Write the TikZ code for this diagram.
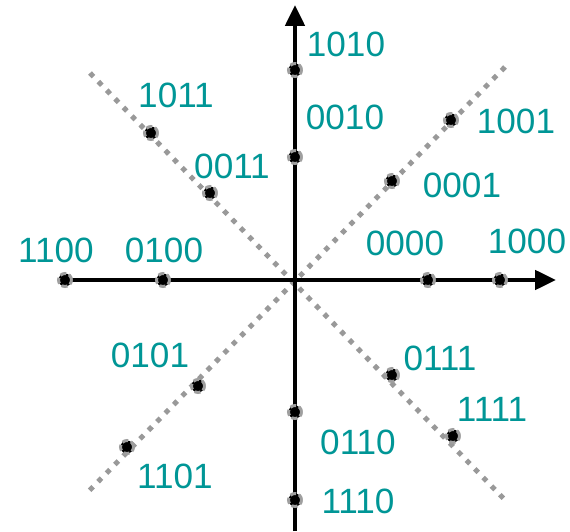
\documentclass[tikz,border=0pt]{standalone}
\usepackage{fontspec}
\setmainfont{Liberation Sans}
\usetikzlibrary{arrows.meta}
\definecolor{labelteal}{RGB}{0,150,150}
\begin{document}
\begin{tikzpicture}[
                    font=\fontsize{20}{24}\selectfont,
                    axis/.style={line width=0.095cm, black, -{Triangle[length=0.42cm, width=0.38cm]}},
                    diag/.style={line width=0.1cm, gray!80, dash pattern=on 0.1cm off 0.14cm},
                    sym/.style={circle, fill=black, draw=gray!75, line width=0.06cm, dash pattern=on 0.12cm off 0.06cm, minimum size=0.26cm, inner sep=0pt},
                    bits/.style={text=labelteal, inner sep=0pt}
                ]
                \useasboundingbox (-5.90,-5.02) rectangle (5.50,5.60);

                % dotted diagonals
                \coordinate (d1s) at (-4.10,4.14);
                \coordinate (d1e) at (4.24,-4.44);
                \coordinate (d2s) at (4.20,4.26);
                \coordinate (d2e) at (-4.20,-4.30);
                \draw[diag] (d1s) -- (d1e);
                \draw[diag] (d2s) -- (d2e);

                % axes
                \coordinate (xl) at (-4.70,0);
                \coordinate (xr) at (5.22,0);
                \coordinate (yb) at (0,-5.02);
                \coordinate (yt) at (0,5.50);
                \draw[axis] (xl) -- (xr);
                \draw[axis] (yb) -- (yt);

                % horizontal axis
                \node[sym] (s0000) at (2.66,0) {};
                \node[sym] (s1000) at (4.10,0) {};
                \node[sym] (s0100) at (-2.64,0) {};
                \node[sym] (s1100) at (-4.60,0) {};
                \node[bits] (l0000) at (2.20,0.74) {0000};
                \node[bits] (l1000) at (4.64,0.78) {1000};
                \node[bits] (l0100) at (-2.62,0.60) {0100};
                \node[bits] (l1100) at (-4.78,0.60) {1100};

                % vertical axis
                \node[sym] (s0010) at (0,2.46) {};
                \node[sym] (s1010) at (0,4.20) {};
                \node[sym] (s0110) at (0,-2.64) {};
                \node[sym] (s1110) at (0,-4.40) {};
                \node[bits] (l0010) at (1.00,3.26) {0010};
                \node[bits] (l1010) at (1.02,4.72) {1010};
                \node[bits] (l0110) at (1.26,-3.24) {0110};
                \node[bits] (l1110) at (1.26,-4.42) {1110};

                % diagonals
                \node[sym] (s0001) at (1.94,1.98) {};
                \node[sym] (s1001) at (3.12,3.20) {};
                \node[sym] (s0011) at (-1.70,1.74) {};
                \node[sym] (s1011) at (-2.88,2.94) {};
                \node[sym] (s0101) at (-1.94,-2.12) {};
                \node[sym] (s1101) at (-3.36,-3.34) {};
                \node[sym] (s0111) at (1.94,-1.90) {};
                \node[sym] (s1111) at (3.16,-3.12) {};
                \node[bits] (l0001) at (3.34,1.90) {0001};
                \node[bits] (l1001) at (4.42,3.18) {1001};
                \node[bits] (l0011) at (-1.26,2.28) {0011};
                \node[bits] (l1011) at (-2.38,3.70) {1011};
                \node[bits] (l0101) at (-2.90,-1.50) {0101};
                \node[bits] (l1101) at (-2.40,-3.92) {1101};
                \node[bits] (l0111) at (2.90,-1.56) {0111};
                \node[bits] (l1111) at (3.94,-2.58) {1111};

            \end{tikzpicture}
\end{document}
